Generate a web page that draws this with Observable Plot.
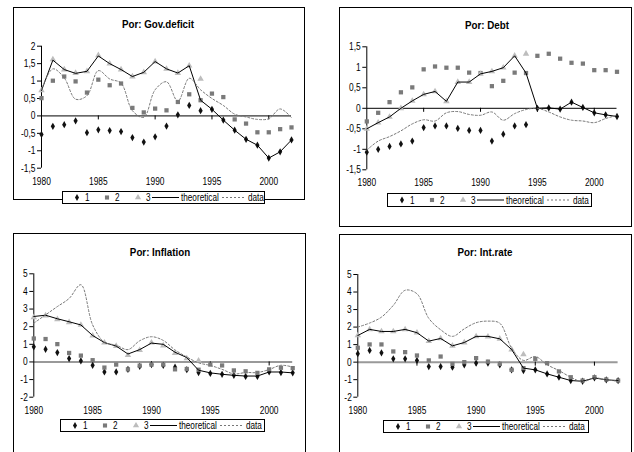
<!DOCTYPE html>
<html><head><meta charset="utf-8">
<script src="https://cdn.jsdelivr.net/npm/d3@7"></script>
<script src="https://cdn.jsdelivr.net/npm/@observablehq/plot@0.6"></script>
<style>
body{margin:0;background:#fff;}
#page{position:relative;width:634px;height:452px;overflow:hidden;background:#fff;font-family:"Liberation Sans",Arial,sans-serif;}
.box{position:absolute;border:1px solid #000;box-sizing:border-box;}
.title{position:absolute;font-weight:bold;font-size:11.5px;transform:translate(-50%,-50%) scaleX(0.85);white-space:nowrap;color:#000;}
.plot{position:absolute;}
.legend{position:absolute;}
</style></head><body><div id="page"></div>
<script>
const years = [1980,1981,1982,1983,1984,1985,1986,1987,1988,1989,1990,1991,1992,1993,1994,1995,1996,1997,1998,1999,2000,2001,2002];
const xTickYears = [1980,1985,1990,1995,2000];
const legendLabels = ["1","2","3","theoretical","data"];

// Gov.deficit
const defS1 = [-0.53,-0.30,-0.25,-0.14,-0.48,-0.40,-0.42,-0.45,-0.62,-0.75,-0.60,-0.29,0.03,0.30,0.15,0.19,-0.12,-0.41,-0.67,-0.84,-1.21,-1.03,-0.69];
const defS2 = [0.51,1.01,1.13,0.99,0.67,1.04,0.88,0.93,0.23,0.10,0.21,0.16,0.40,0.62,0.45,0.64,0.54,-0.10,-0.22,-0.47,-0.47,-0.38,-0.33];
const defS3 = [0.73,1.62,1.33,1.23,1.28,1.74,1.50,1.33,1.13,1.25,1.56,1.35,1.23,1.44,1.06,null,null,null,null,null,null,null,null];
const defTheo = [0.73,1.60,1.33,1.22,1.28,1.72,1.50,1.33,1.13,1.25,1.56,1.35,1.23,1.44,0.45,0.19,-0.12,-0.41,-0.67,-0.84,-1.21,-1.03,-0.69];
const defData = [0.75,1.35,1.09,0.48,0.58,1.30,1.06,0.94,0.15,-0.04,0.75,0.98,0.42,1.08,0.75,0.50,0.30,0.05,-0.03,-0.10,-0.08,0.20,-0.05];
const defTicks = [-1.5,-1,-0.5,0,0.5,1,1.5,2];

// Debt
const debtS1 = [-1.07,-1.00,-0.93,-0.87,-0.80,-0.47,-0.43,-0.43,-0.49,-0.54,-0.54,-0.80,-0.63,-0.43,-0.40,0.00,0.01,-0.02,0.15,0.02,-0.11,-0.16,-0.20];
const debtS2 = [-0.32,-0.11,0.15,0.39,0.51,0.95,1.02,0.99,0.99,0.87,0.86,0.54,0.67,0.87,0.86,1.28,1.33,1.21,1.11,1.09,0.93,0.93,0.89];
const debtS3 = [-0.50,-0.35,-0.21,0.00,0.18,0.34,0.41,0.17,0.64,0.64,0.84,0.90,0.99,1.28,1.33,null,null,null,null,null,null,null,null];
const debtTheo = [-0.50,-0.35,-0.21,0.00,0.18,0.34,0.41,0.17,0.64,0.64,0.84,0.90,0.99,1.28,0.86,0.00,0.01,-0.02,0.15,0.02,-0.11,-0.16,-0.20];
const debtData = [-1.02,-0.80,-0.69,-0.55,-0.38,-0.28,-0.31,-0.11,-0.08,-0.15,-0.17,-0.09,-0.29,-0.13,-0.03,0.00,-0.09,-0.21,-0.29,-0.31,-0.35,-0.25,-0.17];
const debtTicks = [-1.5,-1,-0.5,0,0.5,1,1.5];

// Inflation
const infS1 = [0.86,0.72,0.53,0.19,0.06,-0.19,-0.57,-0.57,-0.42,-0.25,-0.15,-0.19,-0.30,-0.44,-0.60,-0.65,-0.70,-0.76,-0.82,-0.82,-0.57,-0.60,-0.62];
const infS2 = [1.33,1.30,1.01,0.51,0.36,0.10,-0.32,-0.15,-0.42,-0.21,-0.15,-0.15,-0.42,-0.40,-0.44,-0.15,-0.20,-0.48,-0.53,-0.62,-0.42,-0.33,-0.35];
const infS3 = [2.53,2.63,2.42,2.25,2.10,1.49,1.09,0.90,0.38,0.67,1.09,0.93,0.50,0.20,0.07,null,null,null,null,null,null,null,null];
const infTheo = [2.58,2.65,2.45,2.28,2.10,1.50,1.10,0.90,0.45,0.70,1.07,1.00,0.55,0.25,-0.47,-0.62,-0.70,-0.76,-0.80,-0.80,-0.57,-0.57,-0.62];
const infData = [2.20,2.67,3.14,3.60,4.38,2.10,1.12,0.95,0.70,1.20,1.43,1.22,0.68,0.28,-0.05,-0.20,-0.42,-0.68,-0.60,-0.60,-0.43,-0.19,-0.29];
const infTicks = [-2,-1,0,1,2,3,4,5];

// Int.rate
const intS1 = [0.48,0.67,0.53,0.19,0.19,0.10,-0.25,-0.25,-0.29,-0.15,-0.05,-0.05,-0.15,-0.44,-0.48,-0.44,-0.67,-0.86,-1.05,-1.09,-0.90,-1.01,-1.05];
const intS2 = [0.82,1.01,1.01,0.61,0.57,0.38,0.10,0.32,-0.10,0.00,0.23,0.03,-0.10,-0.44,-0.34,0.19,-0.06,-0.53,-0.86,-1.05,-0.86,-0.99,-1.05];
const intS3 = [1.52,1.87,1.75,1.75,1.87,1.68,1.20,1.35,0.93,1.12,1.47,1.45,1.33,0.72,0.44,null,null,null,null,null,null,null,null];
const intTheo = [1.52,1.87,1.75,1.75,1.87,1.68,1.20,1.35,0.93,1.12,1.47,1.47,1.33,0.72,-0.34,-0.44,-0.67,-0.86,-1.05,-1.09,-0.90,-1.01,-1.05];
const intData = [2.00,2.23,2.57,3.24,4.10,3.90,2.50,1.85,1.47,1.90,2.25,2.34,2.22,0.80,0.10,0.32,-0.15,-0.48,-0.86,-1.12,-0.90,-1.01,-1.09];
const intTicks = [-2,-1,0,1,2,3,4,5];

const FONT = '"Liberation Sans",Arial,sans-serif';
const SQUEEZE = 0.8;
const C1 = "#111", C2 = "#7a7a7a", C3 = "#bdbdbd", CDATA = "#777";

const panels = [
  {title:"Por: Gov.deficit", s1:defS1, s2:defS2, s3:defS3, theo:defTheo, data:defData, ticks:defTicks,
   left:0, top:0, mL:41, mR:26, mT:45.7, mB:58.3, zero:"#000", zeroW:1, box:[13,7,305,200], tc:[158,24], lg:[62,191,265,204]},
  {title:"Por: Debt", s1:debtS1, s2:debtS2, s3:debtS3, theo:debtTheo, data:debtData, ticks:debtTicks,
   left:317, top:0, mL:49.3, mR:17.5, mT:46.3, mB:56.7, zero:"#000", zeroW:1, box:[339,7,632,227], tc:[487,25], lg:[387,193,592,207]},
  {title:"Por: Inflation", s1:infS1, s2:infS2, s3:infS3, theo:infTheo, data:infData, ticks:infTicks,
   left:0, top:226, mL:33.3, mR:24.8, mT:47.3, mB:55.3, zero:"#999", zeroW:2, box:[13,233,306,460], tc:[160,252], lg:[60,419,265,432]},
  {title:"Por: Int.rate", s1:intS1, s2:intS2, s3:intS3, theo:intTheo, data:intData, ticks:intTicks,
   left:317, top:226, mL:40.3, mR:16.4, mT:48, mB:55.3, zero:"#999", zeroW:2, box:[339,234,632,460], tc:[485,252], lg:[383,420,589,433]}
];

const page = document.getElementById("page");
const fmt = d => String(d).replace(".", ",");

function squeezeTexts(root, s) {
  root.querySelectorAll("text").forEach(el => {
    const tr = el.getAttribute("transform");
    if (tr) {
      el.setAttribute("transform", tr + ` scale(${s},1)`);
    } else {
      const x = +el.getAttribute("x") || 0;
      el.removeAttribute("x");
      el.setAttribute("transform", `translate(${x},0) scale(${s},1)`);
    }
  });
}

for (const p of panels) {
  const box = document.createElement("div");
  box.className = "box";
  Object.assign(box.style, {left:p.box[0]+"px", top:p.box[1]+"px", width:(p.box[2]-p.box[0])+"px", height:(p.box[3]-p.box[1])+"px"});
  page.appendChild(box);

  const rows = years.map((yr, i) => ({yr, s1:p.s1[i], s2:p.s2[i], s3:p.s3[i], theo:p.theo[i], data:p.data[i]}));
  const W = 317, H = 226;
  const ymin = d3.min(p.ticks), ymax = d3.max(p.ticks);
  const pxPerUnit = (H - p.mT - p.mB) / (ymax - ymin);
  const tickLen = 4 / pxPerUnit;
  const chart = Plot.plot({
    width: W, height: H,
    marginLeft: p.mL, marginRight: p.mR, marginTop: p.mT, marginBottom: p.mB,
    x: {domain: [1980, 2002]},
    y: {domain: [ymin, ymax]},
    style: {fontFamily: FONT, fontSize: "10.5px", background: "transparent", overflow: "visible", color: "#000"},
    marks: [
      Plot.ruleY([0], {stroke: p.zero, strokeWidth: p.zeroW}),
      Plot.ruleX(xTickYears.slice(1), {x: d => d, y1: 0, y2: -tickLen, stroke: "#000"}),
      Plot.ruleX([1980], {stroke: "#000"}),
      Plot.axisY({ticks: p.ticks, tickSize: 4, tickPadding: 2, tickFormat: fmt, label: null}),
      Plot.axisX({ticks: xTickYears, tickSize: 0, tickPadding: 9, tickFormat: d => String(d), label: null}),
      Plot.dot(rows, {x: "yr", y: "s1", symbol: "diamond", fill: C1, r: 2.2}),
      Plot.dot(rows, {x: "yr", y: "s2", symbol: "square", fill: C2, r: 2.4}),
      Plot.dot(rows, {x: "yr", y: "s3", symbol: "triangle", fill: C3, r: 2.4}),
      Plot.line(rows, {x: "yr", y: "theo", stroke: "#000", strokeWidth: 1}),
      Plot.line(rows, {x: "yr", y: "data", stroke: CDATA, strokeWidth: 1, strokeDasharray: "2,2", curve: "catmull-rom"})
    ]
  });
  squeezeTexts(chart, SQUEEZE);
  chart.classList.add("plot");
  chart.style.left = p.left + "px";
  chart.style.top = p.top + "px";
  page.appendChild(chart);

  const t = document.createElement("div");
  t.className = "title";
  t.textContent = p.title;
  t.style.left = p.tc[0] + "px";
  t.style.top = p.tc[1] + "px";
  page.appendChild(t);

  // legend
  const lw = p.lg[2] - p.lg[0], lh = p.lg[3] - p.lg[1];
  const svg = d3.create("svg").attr("width", lw).attr("height", lh).attr("class", "legend")
    .style("left", p.lg[0] + "px").style("top", p.lg[1] + "px")
    .style("font-family", FONT).style("font-size", "10px");
  svg.append("rect").attr("x", 0.5).attr("y", 0.5).attr("width", lw - 1).attr("height", lh - 1).attr("fill", "#fff").attr("stroke", "#000");
  const cy = lh / 2;
  const sym = (type, size, x, fill) => svg.append("path").attr("d", d3.symbol(type, size)()).attr("transform", `translate(${x},${cy})`).attr("fill", fill);
  sym(d3.symbolDiamond, 14, 15, C1);
  sym(d3.symbolSquare, 17, 45, C2);
  sym(d3.symbolTriangle, 17, 76, C3);
  const txt = (x, s) => svg.append("text").attr("transform", `translate(${x},${cy}) scale(0.82,1)`).attr("dy", "0.35em").text(s);
  txt(23, legendLabels[0]); txt(53, legendLabels[1]); txt(84, legendLabels[2]);
  svg.append("line").attr("x1", 90).attr("x2", 117).attr("y1", cy).attr("y2", cy).attr("stroke", "#000");
  txt(119, legendLabels[3]);
  svg.append("line").attr("x1", 160).attr("x2", 184).attr("y1", cy).attr("y2", cy).attr("stroke", CDATA).attr("stroke-dasharray", "2,2");
  txt(186, legendLabels[4]);
  page.appendChild(svg.node());
}
</script></body></html>
